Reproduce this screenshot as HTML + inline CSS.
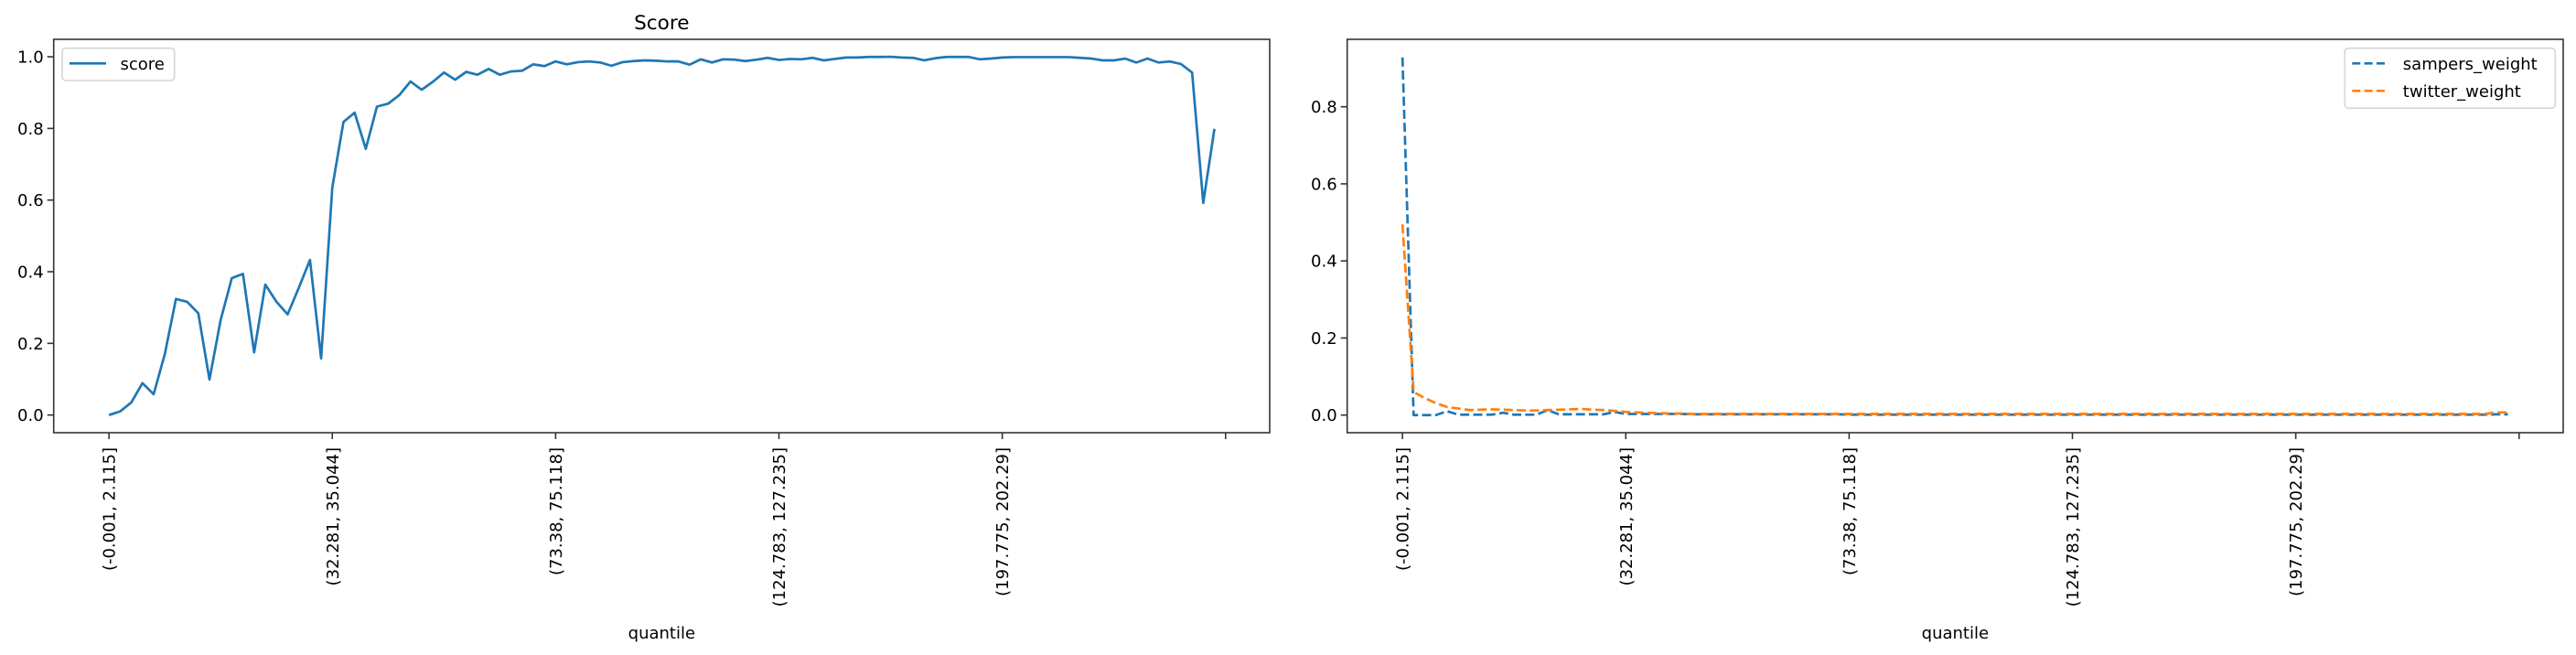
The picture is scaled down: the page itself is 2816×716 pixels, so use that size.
<!DOCTYPE html>
<html><head><meta charset="utf-8">
<style>
html,body{margin:0;padding:0;background:#fff;}
svg{display:block;}
text{font-family:"DejaVu Sans","Liberation Sans",sans-serif;fill:#000;}
</style></head>
<body>
<svg id="fig" width="2816" height="716" viewBox="0 0 2816 716" xmlns="http://www.w3.org/2000/svg"></svg>
<script>
const categoryLabels = ["(-0.001, 2.115]","(32.281, 35.044]","(73.38, 75.118]","(124.783, 127.235]","(197.775, 202.29]",""];
const categoryTickIdx = [0,20,40,60,80,100];
const leftYTicks = [0.0,0.2,0.4,0.6,0.8,1.0];
const rightYTicks = [0.0,0.2,0.4,0.6,0.8];
const score = [0.00,0.01,0.035,0.089,0.058,0.17,0.324,0.316,0.284,0.099,
0.265,0.382,0.394,0.175,0.364,0.316,0.281,0.355,0.433,0.158,
0.635,0.818,0.844,0.743,0.861,0.869,0.893,0.931,0.908,0.930,
0.956,0.936,0.958,0.950,0.966,0.950,0.959,0.961,0.979,0.974,
0.987,0.979,0.985,0.987,0.984,0.975,0.985,0.988,0.990,0.989,
0.987,0.987,0.978,0.993,0.984,0.993,0.992,0.988,0.992,0.997,
0.991,0.994,0.993,0.997,0.990,0.994,0.998,0.998,0.9995,0.9995,
1.0,0.998,0.997,0.990,0.996,0.9995,0.9995,0.9995,0.993,0.995,
0.998,0.999,0.999,0.999,0.999,0.999,0.999,0.997,0.995,0.990,
0.990,0.995,0.984,0.995,0.984,0.987,0.980,0.956,0.592,0.799];
const sampersWeight = [0.928,0.0,0.0,0.0,0.010,0.001,0.001,0.001,0.001,0.006,
0.001,0.001,0.001,0.013,0.002,0.002,0.002,0.002,0.002,0.008,
0.003,0.003,0.003,0.003,0.003,0.003,0.002,0.002,0.002,0.002,
0.002,0.002,0.002,0.002,0.002,0.002,0.002,0.002,0.002,0.002,
0.001,0.001,0.001,0.001,0.001,0.001,0.001,0.001,0.001,0.001,
0.001,0.001,0.001,0.001,0.001,0.001,0.001,0.001,0.001,0.001,
0.001,0.001,0.001,0.001,0.001,0.001,0.001,0.001,0.001,0.001,
0.001,0.001,0.001,0.001,0.001,0.001,0.001,0.001,0.001,0.001,
0.001,0.001,0.001,0.001,0.001,0.001,0.001,0.001,0.001,0.001,
0.001,0.001,0.001,0.001,0.001,0.001,0.001,0.001,0.002,0.002];
const twitterWeight = [0.495,0.06,0.044,0.031,0.021,0.017,0.013,0.014,0.015,0.014,
0.013,0.012,0.012,0.013,0.014,0.015,0.016,0.014,0.013,0.011,
0.008,0.007,0.006,0.005,0.004,0.004,0.003,0.003,0.003,0.003,
0.003,0.003,0.003,0.003,0.003,0.003,0.003,0.003,0.003,0.003,
0.003,0.003,0.003,0.003,0.003,0.003,0.003,0.003,0.003,0.003,
0.003,0.003,0.003,0.003,0.003,0.003,0.003,0.003,0.003,0.003,
0.003,0.003,0.003,0.003,0.003,0.003,0.003,0.003,0.003,0.003,
0.003,0.003,0.003,0.003,0.003,0.003,0.003,0.003,0.003,0.003,
0.003,0.003,0.003,0.003,0.003,0.003,0.003,0.003,0.003,0.003,
0.003,0.003,0.003,0.003,0.003,0.003,0.003,0.003,0.007,0.007];

const NS="http://www.w3.org/2000/svg";
const svg=document.getElementById('fig');
function mk(tag,attrs,parent){const e=document.createElementNS(NS,tag);for(const k in attrs)e.setAttribute(k,attrs[k]);(parent||svg).appendChild(e);return e;}

function drawAxes(cfg){
  const g=mk('g',{});
  
  
  const n=cfg.series[0].values.length;
  const xMin=-0.05*(n-1), xMax=(n-1)*1.05;
  const xs=v=>cfg.L+(v-xMin)/(xMax-xMin)*(cfg.R-cfg.L);
  const ys=v=>cfg.B-(v-cfg.yMin)/(cfg.yMax-cfg.yMin)*(cfg.B-cfg.T);
  // series
  cfg.series.forEach(s=>{
    let d='';
    s.values.forEach((v,i)=>{d+=(i?'L':'M')+xs(i).toFixed(2)+' '+ys(v).toFixed(2);});
    const p=mk('path',{d:d,fill:'none',stroke:s.color,'stroke-width':2.7,'stroke-linejoin':'round'},g);
    if(s.dash)p.setAttribute('stroke-dasharray','10 4.3');
    
    
  });
  // spines
  const fr=mk('rect',{x:cfg.L,y:cfg.T,width:cfg.R-cfg.L,height:cfg.B-cfg.T,fill:'none',stroke:'#333','stroke-width':1.6},g);
  
  
  // y ticks
  cfg.yTicks.forEach(t=>{
    const y=ys(t);
    const tk=mk('line',{x1:cfg.L-7,x2:cfg.L,y1:y,y2:y,stroke:'#333','stroke-width':1.6},g);
    
    
    const tx=mk('text',{x:cfg.L-11,y:y+6.5,'text-anchor':'end','font-size':18},g);
    tx.textContent=t.toFixed(1);
    
    
  });
  // x ticks
  categoryTickIdx.forEach((ix,k)=>{
    const x=xs(ix);
    const tk=mk('line',{x1:x,x2:x,y1:cfg.B,y2:cfg.B+7,stroke:'#333','stroke-width':1.6},g);
    
    
    if(categoryLabels[k]){
      const tx=mk('text',{x:0,y:0,'text-anchor':'end','font-size':18,transform:'translate('+(x+6.5)+','+(cfg.B+16)+') rotate(-90)'},g);
      tx.textContent=categoryLabels[k];
      
      
    }
  });
  const xl=mk('text',{x:(cfg.L+cfg.R)/2,y:698,'text-anchor':'middle','font-size':18},g);
  xl.textContent='quantile';
  
  
  if(cfg.title){
    const tt=mk('text',{x:(cfg.L+cfg.R)/2,y:32,'text-anchor':'middle','font-size':21.6},g);
    tt.textContent=cfg.title;
    
    
  }
  // legend
  const lg=mk('g',{},g);
  
  
  const bx=mk('rect',{x:cfg.leg.x,y:cfg.leg.y,width:cfg.leg.w,height:cfg.leg.h,rx:4,fill:'#fff','fill-opacity':0.8,stroke:'#d6d6d6','stroke-width':1.6},lg);
  
  
  cfg.series.forEach((s,i)=>{
    const yy=cfg.leg.y+16.6+i*30;
    const ln=mk('line',{x1:cfg.leg.x+8,x2:cfg.leg.x+48,y1:yy,y2:yy,stroke:s.color,'stroke-width':2.7},lg);
    if(s.dash)ln.setAttribute('stroke-dasharray','9 4.3');
    
    
    const tx=mk('text',{x:cfg.leg.x+63.5,y:yy+6.5,'font-size':18},lg);
    tx.textContent=s.name;
    
    
  });
}

drawAxes({name:'score-chart',L:58.7,R:1388,T:43,B:473,yMin:-0.0494,yMax:1.0487,yTicks:leftYTicks,title:'Score',
  series:[{name:'score',values:score,color:'#1f77b4',dash:false}],
  leg:{x:68,y:52.7,w:122.7,h:35.3}});
drawAxes({name:'weights-chart',L:1472.7,R:2802,T:43,B:473,yMin:-0.0457,yMax:0.9749,yTicks:rightYTicks,title:'',
  series:[{name:'sampers_weight',values:sampersWeight,color:'#1f77b4',dash:true},
          {name:'twitter_weight',values:twitterWeight,color:'#ff7f0e',dash:true}],
  leg:{x:2563.3,y:52.7,w:230,h:65.6}});
</script>
</body></html>
